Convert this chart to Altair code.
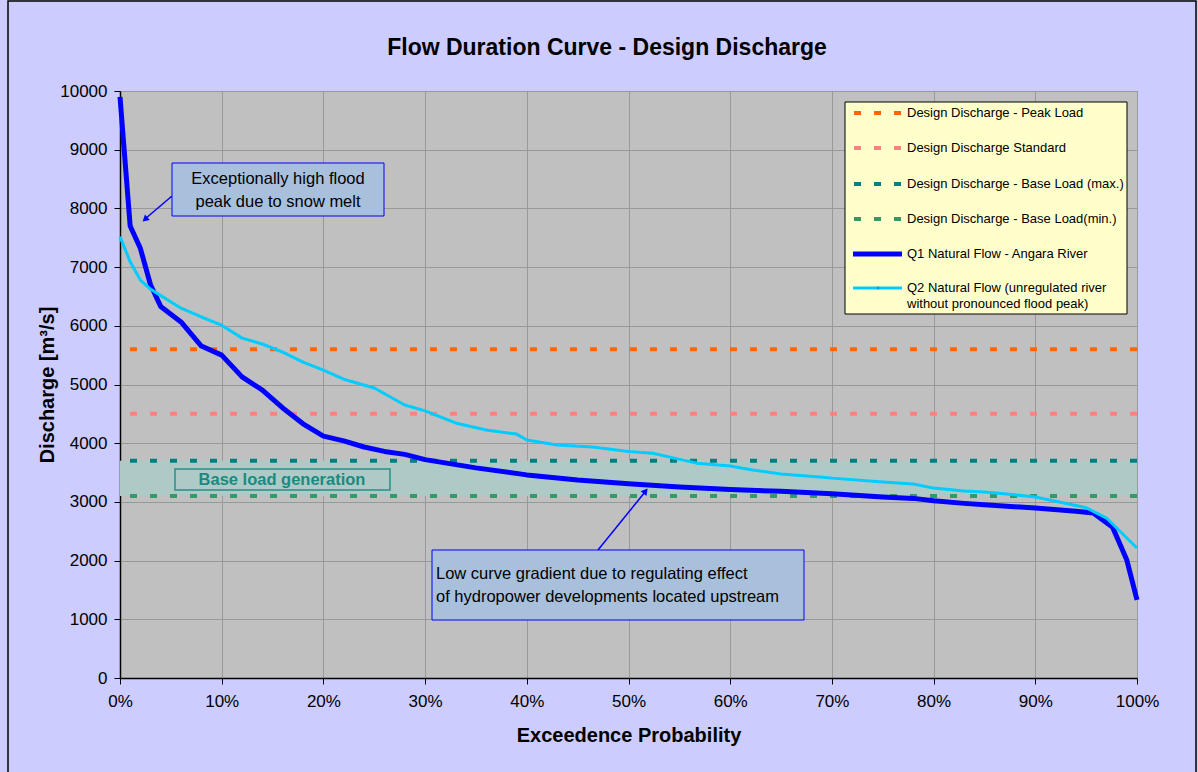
import altair as alt
import pandas as pd

# ---------------- data ----------------
q1_pct = [0, 1, 2, 3, 4, 6, 8, 10, 12, 14, 16, 18, 20, 22, 24, 26, 28, 30, 35, 40, 45,
          50, 55, 60, 65, 70, 75, 78, 80, 83, 85, 90, 94, 95.7, 97.6, 99, 100]
q1_val = [9900, 7700, 7320, 6700, 6330, 6065, 5655, 5500, 5130, 4905, 4600, 4330, 4120,
          4040, 3935, 3860, 3810, 3720, 3580, 3460, 3375, 3310, 3255, 3210, 3180, 3140,
          3085, 3060, 3020, 2975, 2950, 2895, 2840, 2810, 2570, 2010, 1330]

q2_pct = [0, 1, 2, 3, 6, 8, 10, 12, 14, 16, 18, 20, 22, 25, 28, 30, 33, 36, 39, 40, 43,
          46.5, 50, 52.4, 54.4, 56.7, 60, 62.2, 65, 68.8, 70, 75, 78, 80, 83, 85, 88, 90,
          92, 94, 95, 97, 100]
q2_val = [7520, 7090, 6780, 6625, 6300, 6150, 6010, 5790, 5690, 5550, 5380, 5245, 5090,
          4940, 4650, 4550, 4345, 4225, 4155, 4055, 3970, 3935, 3860, 3830, 3750, 3660,
          3610, 3545, 3475, 3425, 3405, 3340, 3305, 3235, 3185, 3170, 3120, 3085, 3010,
          2940, 2900, 2725, 2215]

level_names = ["Design Discharge - Peak Load", "Design Discharge Standard",
               "Design Discharge - Base Load (max.)", "Design Discharge - Base Load(min.)"]
level_values = [5600, 4500, 3700, 3100]
level_colors = ["#ff6600", "#ff8080", "#008080", "#339966"]

series_names = ["Q1 Natural Flow - Angara River",
                "Q2 Natural Flow (unregulated river without pronounced flood peak)"]
series_colors = ["#0000ff", "#00ccff"]

x_ticks = list(range(0, 101, 10))
y_ticks = list(range(0, 10001, 1000))

FONT = "Liberation Sans"
W, H = 1017, 587

# ---------------- tables ----------------
curves = pd.concat([
    pd.DataFrame({"pct": q1_pct, "q": q1_val, "series": series_names[0]}),
    pd.DataFrame({"pct": q2_pct, "q": q2_val, "series": series_names[1]}),
])
levels = pd.DataFrame({"name": level_names, "q": level_values})
band = pd.DataFrame({"q": [min(level_values[2:])], "hi": [max(level_values[2:])]})
one = pd.DataFrame({"k": [0]})

xscale = alt.Scale(domain=[0, 100], nice=False, zero=False)
yscale = alt.Scale(domain=[0, 10000], nice=False)
xaxis = alt.Axis(values=x_ticks, labelExpr="datum.value + '%'", labelFlush=False,
                 title="Exceedence Probability", grid=True)
yaxis = alt.Axis(values=y_ticks, format="d", labelFlush=False,
                 title="Discharge [m³/s]", grid=True)

X = alt.X("pct:Q", scale=xscale, axis=xaxis)
Y = alt.Y("q:Q", scale=yscale, axis=yaxis)

# shaded base-load band
band_layer = alt.Chart(band).mark_rect(color="#aecac6", opacity=1).encode(
    x=alt.datum(0, scale=xscale, axis=xaxis), x2=alt.datum(100),
    y=Y, y2="hi:Q")

# design discharge levels
level_layer = alt.Chart(levels).mark_rule(strokeWidth=4, strokeDash=[7, 13]).encode(
    y=Y,
    color=alt.Color("name:N", scale=alt.Scale(domain=level_names, range=level_colors),
                    legend=None))

q1_layer = alt.Chart(curves[curves.series == series_names[0]]).mark_line(
    color=series_colors[0], strokeWidth=5, strokeJoin="round").encode(x=X, y=Y)
q2_layer = alt.Chart(curves[curves.series == series_names[1]]).mark_line(
    color=series_colors[1], strokeWidth=3, strokeJoin="round").encode(x=X, y=Y)

layers = [band_layer, level_layer, q1_layer, q2_layer]


def rect(x1, x2, y1, y2, **kw):
    return alt.Chart(one).mark_rect(**kw).encode(
        x=alt.value(x1), x2=alt.value(x2), y=alt.value(y1), y2=alt.value(y2))


def text(t, x, y, **kw):
    base = dict(font=FONT, fontSize=16.5, color="black", baseline="middle")
    base.update(kw)
    return alt.Chart(one).mark_text(text=t, **base).encode(x=alt.value(x), y=alt.value(y))


def seg(x1, y1, x2, y2, **kw):
    return alt.Chart(one).mark_rule(**kw).encode(
        x=alt.value(x1), y=alt.value(y1), x2=alt.value(x2), y2=alt.value(y2))


def head(x, y, angle, color="#0000ff"):
    return alt.Chart(one).mark_point(shape="triangle", filled=True, size=55, color=color,
                                     opacity=1, angle=angle).encode(
        x=alt.value(x), y=alt.value(y))


# "Base load generation" label
layers += [
    rect(55, 270, 378, 399, fill="#000000", fillOpacity=0, stroke="#2a9085", strokeWidth=1.5),
    text("Base load generation", 162, 389, fontSize=16.5, fontWeight="bold",
         color="#1a8a80", align="center"),
]

# annotation 1
layers += [
    seg(52, 105, 25, 128, color="#0000ff", strokeWidth=1.5),
    head(25.8, 127.7, 229),
    rect(52, 264, 72, 125, fill="#a8c0dc", stroke="#0000ff", strokeWidth=1),
    text("Exceptionally high flood", 158, 88, align="center"),
    text("peak due to snow melt", 158, 111, align="center"),
]

# annotation 2
layers += [
    seg(478, 459, 525, 401, color="#0000ff", strokeWidth=1.5),
    head(524.9, 400.9, 39),
    rect(312, 684, 459, 529, fill="#a8c0dc", stroke="#0000ff", strokeWidth=1),
    text("Low curve gradient due to regulating effect", 316, 483, align="left"),
    text("of hydropower developments located upstream", 316, 506, align="left"),
]

# legend
layers.append(rect(725, 1007, 11, 223, fill="#ffffcc", stroke="#000000", strokeWidth=1))
rows = [22, 57, 93, 128]
for name, col, ry in zip(level_names, level_colors, rows):
    layers.append(seg(734, ry, 782, ry, color=col, strokeWidth=4, strokeDash=[7, 13]))
    layers.append(text(name, 787, ry, fontSize=13, align="left"))
layers.append(seg(733, 163, 782, 163, color=series_colors[0], strokeWidth=5))
layers.append(text(series_names[0], 787, 163, fontSize=13, align="left"))
layers.append(seg(733, 197, 782, 197, color=series_colors[1], strokeWidth=3))
layers.append(alt.Chart(one).mark_point(shape="square", filled=True, size=6,
                                        color="#0099cc", opacity=1).encode(
    x=alt.value(758), y=alt.value(197)))
layers.append(text("Q2 Natural Flow (unregulated river", 787, 197, fontSize=13, align="left"))
layers.append(text("without pronounced flood peak)", 787, 213, fontSize=13, align="left"))

# title and outer frame
layers.append(text("Flow Duration Curve - Design Discharge", 487, -43, fontSize=23,
                   fontWeight="bold", align="center"))
layers.append(rect(-112, 1076, -90, 700, fill="#000000", fillOpacity=0,
                   stroke="#000000", strokeWidth=1.5))

chart = alt.layer(*layers).properties(
    width=W, height=H,
    autosize=alt.AutoSizeParams(type="none"),
    padding={"left": 120, "top": 91, "right": 61, "bottom": 94},
).configure(
    background="#ccccff",
    font=FONT,
).configure_view(
    fill="#c0c0c0", stroke="#808080", strokeWidth=1,
).configure_axis(
    labelFont=FONT, labelFontSize=17, labelColor="black",
    titleFont=FONT, titleFontSize=20, titleFontWeight="bold", titleColor="black",
    domainColor="black", domainWidth=1.5, tickColor="black", tickSize=6, tickWidth=1,
    gridColor="#999999", gridWidth=1, gridOpacity=1,
).configure_axisX(
    labelPadding=9, titlePadding=16,
).configure_axisY(
    labelPadding=7, titlePadding=2,
)

chart.save("out.html", embed_options={"renderer": "svg", "actions": False})
